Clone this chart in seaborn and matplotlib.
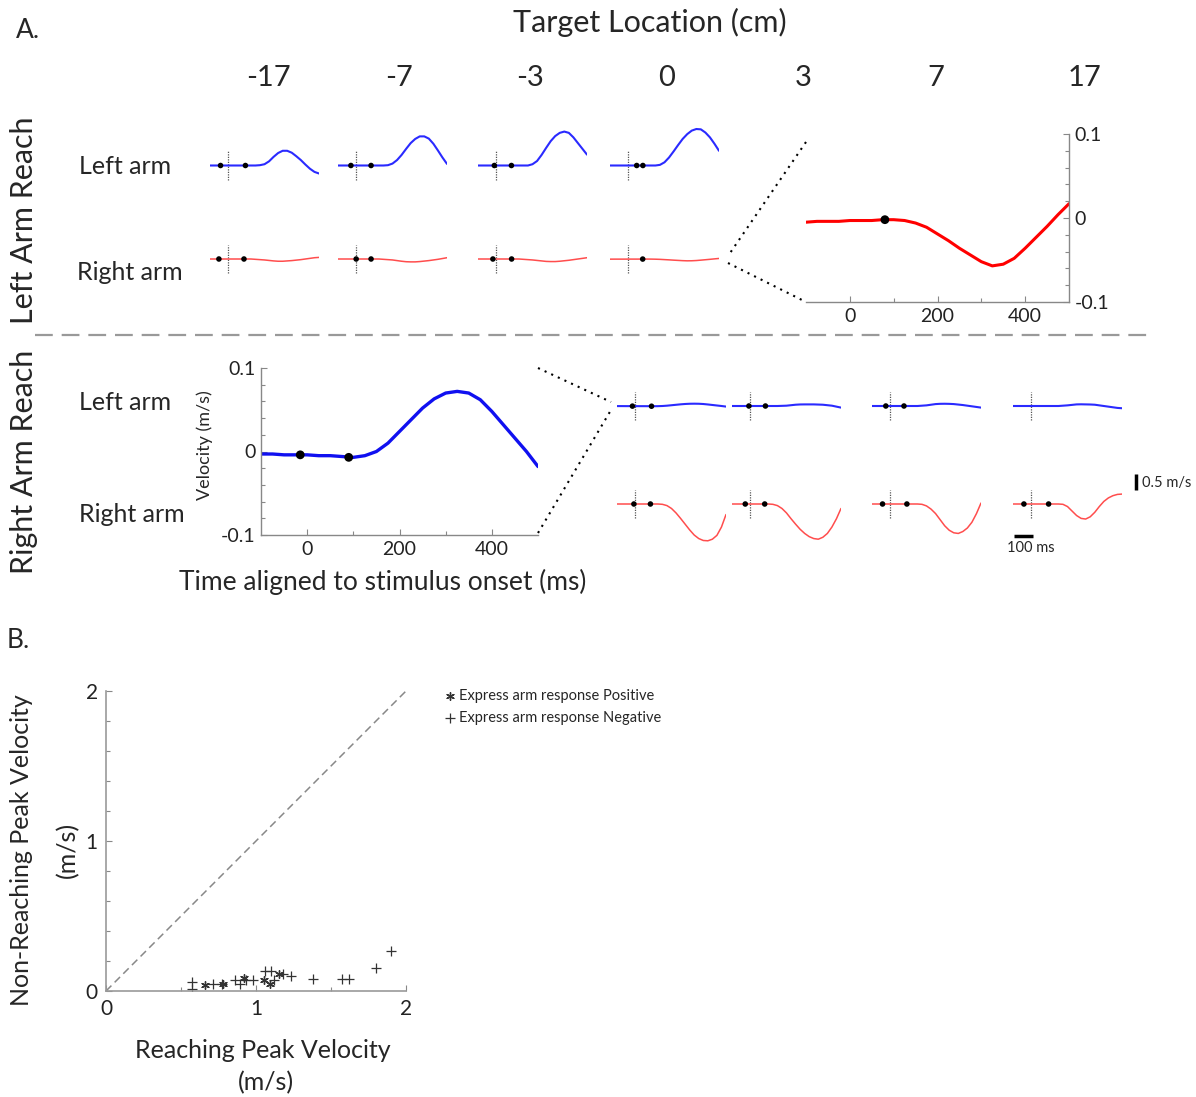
import matplotlib
matplotlib.use("Agg")
import matplotlib.pyplot as plt
import seaborn as sns
from matplotlib.lines import Line2D

# ---------------- data ----------------
target_labels = ["-17", "-7", "-3", "0", "3", "7", "17"]
top_targets = [-17, -7, -3, 0]
bottom_targets = [0, 3, 7, 17]

time_ms = [-100, -75, -50, -25, 0, 25, 50, 75, 100, 125, 150, 175, 200,
           225, 250, 275, 300, 325, 350, 375, 400, 425, 450, 475, 500]

# zoomed traces (m/s)
inset_lr_right_t0 = [-0.005, -0.004, -0.004, -0.004, -0.003, -0.003, -0.003, -0.002, -0.002,
                     -0.003, -0.006, -0.011, -0.019, -0.027, -0.036, -0.044, -0.052, -0.057,
                     -0.055, -0.048, -0.036, -0.023, -0.010, 0.004, 0.017]
inset_lr_dot_ms = [80]
inset_lr_dot_v = [-0.002]

inset_rr_left_t0 = [-0.003, -0.003, -0.004, -0.004, -0.004, -0.005, -0.005, -0.006, -0.007,
                    -0.005, 0.0, 0.010, 0.024, 0.038, 0.052, 0.063, 0.070, 0.072, 0.070,
                    0.062, 0.048, 0.032, 0.016, 0.0, -0.018]
inset_rr_dot_ms = [-15, 90]
inset_rr_dot_v = [-0.004, -0.007]

# Left arm reach (targets -17, -7, -3, 0)
lr_left_arm = [
    [0, 0, 0, 0, 0, 0, 0, 0, 0, 0, 0.0, 0.01, 0.04, 0.13, 0.27, 0.39, 0.46, 0.46,
     0.40, 0.29, 0.17, 0.03, -0.10, -0.20, -0.25],
    [0, 0, 0, 0, 0, 0, 0, 0, 0, 0, 0.0, 0.01, 0.06, 0.17, 0.33, 0.52, 0.70, 0.83,
     0.91, 0.91, 0.84, 0.68, 0.47, 0.25, 0.05],
    [0, 0, 0, 0, 0, 0, 0, 0, 0, 0, 0.0, 0.0, 0.04, 0.14, 0.33, 0.55, 0.76, 0.92,
     1.02, 1.06, 1.02, 0.88, 0.70, 0.52, 0.34],
    [0, 0, 0, 0, 0, 0, 0, 0, 0, 0, 0.0, 0.02, 0.10, 0.25, 0.44, 0.64, 0.83, 0.98,
     1.09, 1.14, 1.13, 1.03, 0.88, 0.68, 0.46],
]
lr_left_dot_ms = [[-42, 95], [-29, 82], [-10, 84], [47, 81]]
lr_left_dot_v = [[0, 0], [0, 0], [0, 0], [0, 0]]

lr_right_arm = [
    [0, 0, 0, 0, 0, 0, 0, 0, 0, 0, -0.01, -0.02, -0.03, -0.045, -0.06, -0.07, -0.07,
     -0.06, -0.05, -0.035, -0.02, 0.0, 0.02, 0.04, 0.05],
    [0, 0, 0, 0, 0, 0, 0, 0, 0, 0, -0.01, -0.02, -0.03, -0.05, -0.07, -0.085, -0.09,
     -0.09, -0.08, -0.065, -0.05, -0.03, -0.01, 0.015, 0.04],
    [0, 0, 0, 0, 0, 0, 0, 0, 0, 0, -0.01, -0.02, -0.03, -0.045, -0.06, -0.075, -0.08,
     -0.08, -0.07, -0.055, -0.04, -0.02, 0.0, 0.02, 0.04],
    inset_lr_right_t0,
]
lr_right_dot_ms = [[-51, 87], [0, 82], [-18, 85], inset_lr_dot_ms]
lr_right_dot_v = [[0, 0], [0, 0], [0, 0], inset_lr_dot_v]

# Right arm reach (targets 0, 3, 7, 17)
rr_left_arm = [
    inset_rr_left_t0,
    [0, 0, 0, 0, 0, 0, 0, 0, 0, 0, 0.0, 0.005, 0.01, 0.025, 0.04, 0.048, 0.05, 0.05,
     0.05, 0.045, 0.04, 0.025, 0.01, -0.02, -0.05],
    [0, 0, 0, 0, 0, 0, 0, 0, 0, 0, 0.0, 0.01, 0.02, 0.04, 0.06, 0.068, 0.07, 0.067,
     0.06, 0.045, 0.03, 0.01, -0.01, -0.03, -0.05],
    [0, 0, 0, 0, 0, 0, 0, 0, 0, 0, 0.0, 0.01, 0.02, 0.035, 0.05, 0.053, 0.05, 0.047,
     0.04, 0.02, 0.0, -0.02, -0.04, -0.06, -0.07],
]
rr_left_dot_ms = [inset_rr_dot_ms, [-7, 84], [-24, 76], []]
rr_left_dot_v = [inset_rr_dot_v, [0, 0], [0, 0], []]

rr_right_arm = [
    [0, 0, 0, 0, 0, 0, 0, 0, 0, 0, -0.01, -0.05, -0.14, -0.28, -0.45, -0.63, -0.81,
     -0.97, -1.08, -1.14, -1.15, -1.10, -0.98, -0.72, -0.33],
    [0, 0, 0, 0, 0, 0, 0, 0, 0, -0.01, -0.05, -0.14, -0.28, -0.46, -0.63, -0.79, -0.92,
     -1.02, -1.08, -1.10, -1.04, -0.92, -0.72, -0.46, -0.14],
    [0, 0, 0, 0, 0, 0, 0, 0, 0, 0, 0.0, -0.01, -0.06, -0.16, -0.30, -0.49, -0.68,
     -0.82, -0.90, -0.92, -0.86, -0.75, -0.57, -0.30, 0.03],
    [0, 0, 0, 0, 0, 0, 0, 0, 0, 0, 0.0, -0.01, -0.08, -0.22, -0.36, -0.45, -0.47,
     -0.40, -0.26, -0.08, 0.08, 0.19, 0.26, 0.30, 0.31],
]
rr_right_dot_ms = [[-7, 84], [-27, 80], [-42, 92], [-40, 96]]
rr_right_dot_v = [[0, 0], [0, 0], [0, 0], [0, 0]]

# Panel B: peak velocities (m/s)
pos_reach = [0.66, 0.78, 0.92, 1.05, 1.09, 1.15]
pos_nonreach = [0.038, 0.044, 0.089, 0.071, 0.049, 0.116]
neg_reach = [0.57, 0.57, 0.71, 0.77, 0.86, 0.89, 0.93, 0.98, 1.06, 1.10, 1.12,
             1.18, 1.23, 1.38, 1.57, 1.62, 1.80, 1.90]
neg_nonreach = [0.060, 0.011, 0.049, 0.049, 0.071, 0.044, 0.071, 0.071, 0.133, 0.133,
                0.071, 0.116, 0.100, 0.082, 0.082, 0.082, 0.151, 0.267]

# ---------------- style ----------------
sns.set_theme(style="ticks")
plt.rcParams['font.family'] = ['Lato', 'DejaVu Sans']
plt.rcParams['axes.unicode_minus'] = False

W, H = 1196, 1097
fig = plt.figure(figsize=(W / 100, H / 100), dpi=100)
fig.patch.set_facecolor('white')


def fx(x):
    return x / W


def fy(y):
    return 1 - y / H


def px_axes(left, top, width, height):
    ax = fig.add_axes([left / W, 1 - (top + height) / H, width / W, height / H])
    ax.patch.set_alpha(0)
    return ax


BLUE = '#2a2aff'
RED = '#ff4d4d'
PX_PER_MS = 32.0  # pixels per m/s in small traces
HALF = 1.6


def small_trace(left, base_y, v, dts, dvs, color, lw):
    ax = px_axes(left, base_y - HALF * PX_PER_MS, 109, 2 * HALF * PX_PER_MS)
    ax.set_xlim(-100, 500)
    ax.set_ylim(-HALF, HALF)
    ax.axis('off')
    ax.axvline(0, ymin=0.5 - 0.137, ymax=0.5 + 0.137, color='#555555',
               ls=(0, (1, 1)), lw=0.9, zorder=1)
    sns.lineplot(x=time_ms, y=v, ax=ax, color=color, lw=lw, zorder=2)
    if len(dts):
        sns.scatterplot(x=dts, y=dvs, ax=ax, color='black', s=16,
                        edgecolor='none', zorder=5)
    return ax


top_left = [210, 338, 478, 610]
bot_left = [617, 732, 872, 1013]
for i in range(4):
    small_trace(top_left[i], 165.5, lr_left_arm[i], lr_left_dot_ms[i], lr_left_dot_v[i], BLUE, 1.5)
    small_trace(top_left[i], 259, lr_right_arm[i], lr_right_dot_ms[i], lr_right_dot_v[i], RED, 1.1)
    small_trace(bot_left[i], 406, rr_left_arm[i], rr_left_dot_ms[i], rr_left_dot_v[i], BLUE, 1.5)
    ax_last = small_trace(bot_left[i], 504, rr_right_arm[i], rr_right_dot_ms[i], rr_right_dot_v[i], RED, 1.1)

# scale bars (in the last red trace axes)
ax_last.plot([575, 575], [0.44, 0.94], color='black', lw=2.5, clip_on=False,
             solid_capstyle='butt')
ax_last.plot([-92, 8], [-1.0, -1.0], color='black', lw=2.5, clip_on=False,
             solid_capstyle='butt')
fig.text(fx(1142), fy(483), "0.5 m/s", fontsize=10.5, ha='left', va='center')
fig.text(fx(1007), fy(548), "100 ms", fontsize=10.5, ha='left', va='center')


def style_inset(ax):
    ax.set_xlim(-100, 500)
    ax.set_ylim(-0.1, 0.1)
    ax.set_xticks([0, 200, 400])
    ax.set_xticks([100, 300], minor=True)
    ax.set_yticks([-0.1, 0, 0.1])
    ax.set_yticklabels(['-0.1', '0', '0.1'])
    ax.set_yticks([-0.08, -0.06, -0.04, -0.02, 0.02, 0.04, 0.06, 0.08], minor=True)
    ax.tick_params(which='both', direction='in', color='#888888', labelsize=14,
                   labelcolor='#222222', width=0.8)
    ax.tick_params(which='major', length=4, pad=4)
    ax.tick_params(which='minor', length=3)
    ax.set_xlabel('')
    ax.set_ylabel('')


# top inset (left arm reach, right arm, target 0)
ax_ti = px_axes(806, 134, 263, 168)
sns.lineplot(x=time_ms, y=inset_lr_right_t0, ax=ax_ti, color='#ff0000', lw=2.2)
sns.scatterplot(x=inset_lr_dot_ms, y=inset_lr_dot_v, ax=ax_ti, color='black', s=40,
                edgecolor='none', zorder=5)
style_inset(ax_ti)
ax_ti.yaxis.tick_right()
ax_ti.tick_params(axis='y', which='both', left=False, right=True)
for s in ['top', 'left']:
    ax_ti.spines[s].set_visible(False)
for s in ['bottom', 'right']:
    ax_ti.spines[s].set_color('#888888')
    ax_ti.spines[s].set_linewidth(1.0)

# bottom inset (right arm reach, left arm, target 0)
ax_bi = px_axes(261, 368, 277, 167)
sns.lineplot(x=time_ms, y=inset_rr_left_t0, ax=ax_bi, color='#1010f0', lw=2.4)
sns.scatterplot(x=inset_rr_dot_ms, y=inset_rr_dot_v, ax=ax_bi, color='black', s=40,
                edgecolor='none', zorder=5)
style_inset(ax_bi)
for s in ['top', 'right']:
    ax_bi.spines[s].set_visible(False)
for s in ['bottom', 'left']:
    ax_bi.spines[s].set_color('#888888')
    ax_bi.spines[s].set_linewidth(1.0)
fig.text(fx(205), fy(445), "Velocity (m/s)", rotation=90, fontsize=13,
         ha='center', va='center')
fig.text(fx(383), fy(582), "Time aligned to stimulus onset (ms)", fontsize=19,
         ha='center', va='center')


# connectors (dotted)
def fig_line(p0, p1, **kw):
    fig.add_artist(Line2D([fx(p0[0]), fx(p1[0])], [fy(p0[1]), fy(p1[1])],
                          transform=fig.transFigure, **kw))


dot_kw = dict(color='black', lw=1.5, ls=(0, (1, 2.5)))
fig_line((806, 142), (728, 256), **dot_kw)
fig_line((728, 263), (806, 302), **dot_kw)
fig_line((538, 368), (611, 402), **dot_kw)
fig_line((538, 533), (611, 410), **dot_kw)

# separator
fig_line((35, 335), (1150, 335), color='#999999', lw=1.6, ls=(0, (8, 4)))

# titles and labels
fig.text(fx(28), fy(30), "A.", fontsize=19, ha='center', va='center')
fig.text(fx(18), fy(640), "B.", fontsize=19, ha='center', va='center')
fig.text(fx(650), fy(22), "Target Location (cm)", fontsize=22, ha='center', va='center')
for lbl, x in zip(target_labels, [268, 399, 530, 667, 803, 936, 1085]):
    fig.text(fx(x), fy(78), lbl, fontsize=21, ha='center', va='center')
fig.text(fx(24), fy(220), "Left Arm Reach", rotation=90, fontsize=22, ha='center', va='center')
fig.text(fx(24), fy(462), "Right Arm Reach", rotation=90, fontsize=22, ha='center', va='center')
for txt, x, y in [("Left arm", 125, 166), ("Right arm", 130, 272),
                  ("Left arm", 125, 403), ("Right arm", 132, 514)]:
    fig.text(fx(x), fy(y), txt, fontsize=18, ha='center', va='center')

# ---------------- panel B ----------------
axb = px_axes(106, 691, 300, 300)
axb.axline((0, 0), slope=1, color='#888888', lw=1.1, ls=(0, (5, 3)))
sns.scatterplot(x=pos_reach, y=pos_nonreach, ax=axb, marker=(6, 2, 0), s=30,
                color='#333333', linewidth=1.0, label='Express arm response Positive')
sns.scatterplot(x=neg_reach, y=neg_nonreach, ax=axb, marker='+', s=45,
                color='#333333', linewidth=0.9, label='Express arm response Negative')
axb.set_xlim(0, 2)
axb.set_ylim(0, 2)
axb.set_xticks([0, 1, 2])
axb.set_yticks([0, 1, 2])
axb.set_xticks([0.5, 1.5], minor=True)
axb.set_yticks([0.2, 0.4, 0.6, 0.8, 1.2, 1.4, 1.6, 1.8], minor=True)
axb.tick_params(which='both', direction='in', color='#888888', labelsize=15,
                labelcolor='#222222', width=0.8)
axb.tick_params(which='major', length=4)
axb.tick_params(axis='x', which='major', pad=6)
axb.tick_params(axis='y', which='major', pad=6)
axb.tick_params(which='minor', length=3)
for s in ['top', 'right']:
    axb.spines[s].set_visible(False)
for s in ['bottom', 'left']:
    axb.spines[s].set_color('#999999')
    axb.spines[s].set_linewidth(1.2)
axb.set_xlabel('')
axb.set_ylabel('')
axb.legend(loc='upper left', bbox_to_anchor=(fx(436), fy(682)),
           bbox_transform=fig.transFigure, frameon=False, fontsize=10.5,
           handletextpad=0.2, handlelength=0.9, labelspacing=0.55, borderpad=0)
fig.text(fx(22), fy(850), "Non-Reaching Peak Velocity", rotation=90, fontsize=18,
         ha='center', va='center')
fig.text(fx(68), fy(850), "(m/s)", rotation=90, fontsize=18, ha='center', va='center')
fig.text(fx(263), fy(1050), "Reaching Peak Velocity", fontsize=18, ha='center', va='center')
fig.text(fx(266), fy(1083), "(m/s)", fontsize=18, ha='center', va='center')

fig.savefig("out.png", dpi=100, facecolor='white')
